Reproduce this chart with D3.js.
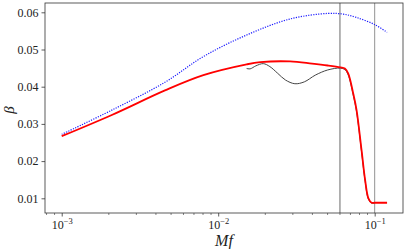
<!DOCTYPE html>
<html>
<head>
<meta charset="utf-8">
<script src="https://cdn.jsdelivr.net/npm/d3@7"></script>
<style>
  body { margin: 0; background: #fff; }
  svg { display: block; }
  text { font-family: "Liberation Serif", "DejaVu Serif", serif; }
</style>
</head>
<body>
<div id="chart"></div>
<script>
// beta versus Mf
const blueMf   = [0.001, 0.00209, 0.00457, 0.00804, 0.0152, 0.0288, 0.0501, 0.0631, 0.0766, 0.1, 0.12];
const blueBeta = [0.0272, 0.0337, 0.0412, 0.0481, 0.0539, 0.0582, 0.0597, 0.0595, 0.0586, 0.0567, 0.0546];

const redMf   = [0.001, 0.00209, 0.00457, 0.00804, 0.0152, 0.0186, 0.0288, 0.0398, 0.0501, 0.0603, 0.0645, 0.0677, 0.0729, 0.0766, 0.0824, 0.0869, 0.0912, 0.0957, 0.1, 0.12];
const redBeta = [0.0267, 0.0324, 0.0390, 0.0431, 0.0460, 0.0466, 0.0468, 0.0462, 0.0457, 0.0452, 0.0449, 0.0436, 0.0382, 0.0337, 0.0230, 0.0149, 0.0100, 0.0088, 0.0088, 0.0088];

const blackMf   = [0.0152, 0.0160, 0.0174, 0.0194, 0.0214, 0.0240, 0.0269, 0.0309, 0.0355, 0.0417, 0.0501, 0.0603, 0.0645, 0.0677, 0.0729, 0.0766, 0.0824, 0.0869, 0.0912, 0.0957, 0.1];
const blackBeta = [0.0449, 0.0448, 0.0456, 0.0462, 0.0454, 0.0436, 0.0418, 0.0408, 0.0413, 0.0431, 0.0445, 0.0450, 0.0446, 0.0432, 0.0378, 0.0333, 0.0226, 0.0146, 0.0098, 0.0087, 0.0087];

const vLines = [0.06, 0.1];
const yTicks = [0.01, 0.02, 0.03, 0.04, 0.05, 0.06];
const xTicks = [1e-3, 1e-2, 1e-1];
const xTickExp = ["\u22123", "\u22122", "\u22121"];

const margin = {top: 3, right: 4, bottom: 36, left: 45};
const width = 407 - margin.left - margin.right;
const height = 249 - margin.top - margin.bottom;

const svg = d3.select("#chart")
    .append("svg")
    .attr("width", 407)
    .attr("height", 249)
    .append("g")
    .attr("transform", `translate(${margin.left},${margin.top})`);

const x = d3.scaleLog()
    .domain([0.000782, 0.1517])
    .range([0, width]);

const y = d3.scaleLinear()
    .domain([0.00605, 0.0625])
    .range([height, 0]);

// minor ticks on x
const minor = [];
[1e-4, 1e-3, 1e-2, 1e-1].forEach(function(d) {
    for (let k = 2; k < 10; k++) {
        const v = d * k;
        if (v > x.domain()[0] && v < x.domain()[1]) minor.push(v);
    }
});
svg.append("g")
    .attr("transform", `translate(0,${height})`)
    .selectAll("line")
    .data(minor)
    .join("line")
    .attr("x1", d => x(d)).attr("x2", d => x(d))
    .attr("y1", 0).attr("y2", 2)
    .attr("stroke", "#333").attr("stroke-width", 0.6);

// x axis
const xAxis = svg.append("g")
    .attr("transform", `translate(0,${height})`)
    .call(d3.axisBottom(x).tickValues(xTicks).tickSize(3.5).tickPadding(3).tickFormat(""));
xAxis.select(".domain").remove();
xAxis.selectAll(".tick line").attr("stroke", "#333").attr("stroke-width", 0.8);
xAxis.selectAll(".tick").each(function(d, i) {
    const t = d3.select(this).append("text")
        .attr("y", 16)
        .attr("fill", "#222")
        .attr("text-anchor", "middle")
        .style("font-size", "12px");
    t.append("tspan").text("10");
    t.append("tspan").attr("dy", -5).style("font-size", "8.5px").text(xTickExp[i]);
});

// y axis
const yAxis = svg.append("g")
    .call(d3.axisLeft(y).tickValues(yTicks).tickSize(3.5).tickPadding(3).tickFormat(d3.format(".2f")));
yAxis.select(".domain").remove();
yAxis.selectAll(".tick line").attr("stroke", "#333").attr("stroke-width", 0.8);
yAxis.selectAll(".tick text").attr("fill", "#222").style("font-size", "12px").style("font-family", "Liberation Serif");

// vertical lines
svg.selectAll(".vline")
    .data(vLines)
    .join("line")
    .attr("class", "vline")
    .attr("x1", d => x(d)).attr("x2", d => x(d))
    .attr("y1", 0).attr("y2", height)
    .attr("stroke", (d, i) => i === 0 ? "#444" : "#777")
    .attr("stroke-width", 0.8);

const line = d3.line()
    .x(d => x(d[0]))
    .y(d => y(d[1]))
    .curve(d3.curveCatmullRom.alpha(0.5));

svg.append("path")
    .datum(d3.zip(blueMf, blueBeta))
    .attr("fill", "none")
    .attr("stroke", "#1a1aff")
    .attr("stroke-width", 1.2)
    .attr("stroke-dasharray", "1.2,1.3")
    .attr("d", line);

svg.append("path")
    .datum(d3.zip(blackMf, blackBeta))
    .attr("fill", "none")
    .attr("stroke", "#444")
    .attr("stroke-width", 1)
    .attr("d", line);

svg.append("path")
    .datum(d3.zip(redMf, redBeta))
    .attr("fill", "none")
    .attr("stroke", "#ff0000")
    .attr("stroke-width", 1.8)
    .attr("d", line);

// frame
svg.append("rect")
    .attr("width", width).attr("height", height)
    .attr("fill", "none")
    .attr("stroke", "#333")
    .attr("stroke-width", 0.8);

// axis labels
svg.append("text")
    .attr("x", width / 2)
    .attr("y", height + 33)
    .attr("text-anchor", "middle")
    .attr("fill", "#222")
    .style("font-size", "16px")
    .style("font-style", "italic")
    .text("Mf");

svg.append("text")
    .attr("transform", `translate(${-31},${107}) rotate(-90)`)
    .attr("text-anchor", "middle")
    .attr("fill", "#222")
    .style("font-size", "15px")
    .style("font-style", "italic")
    .text("\u03b2");
</script>
</body>
</html>
